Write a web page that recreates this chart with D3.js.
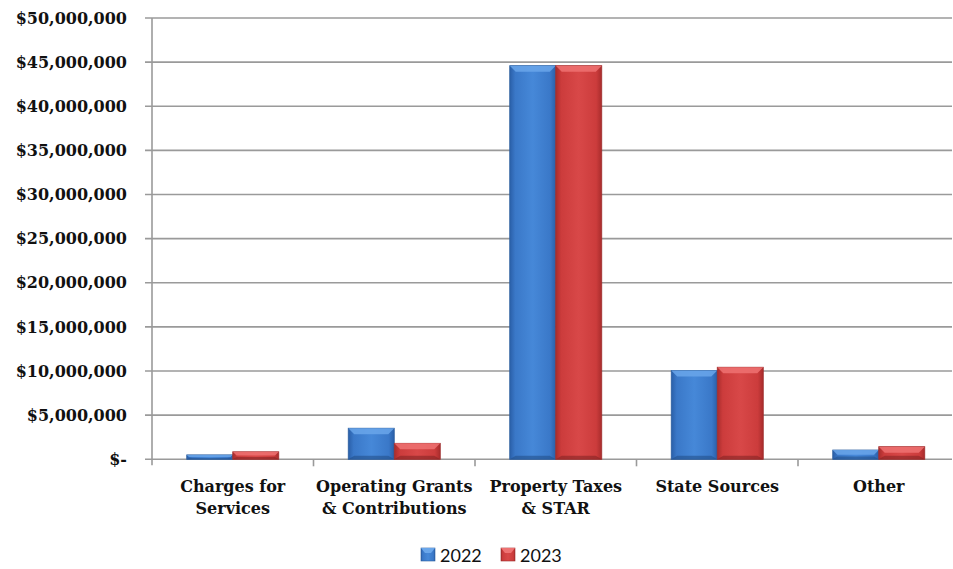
<!DOCTYPE html>
<html><head><meta charset="utf-8">
<script src="https://cdn.jsdelivr.net/npm/d3@7/dist/d3.min.js"></script>
<style>body{margin:0;background:#fff}svg{display:block}</style>
</head><body><svg id="c" width="953" height="569"></svg>
<script>
const categories = [["Charges for","Services"],["Operating Grants","& Contributions"],["Property Taxes","& STAR"],["State Sources"],["Other"]];
const seriesNames = ["2022","2023"];
const values2022 = [500000, 3520000, 44600000, 10050000, 1050000];
const values2023 = [850000, 1810000, 44600000, 10430000, 1430000];
const yTicks = [0,5000000,10000000,15000000,20000000,25000000,30000000,35000000,40000000,45000000,50000000];

(function(){
const svg = d3.select("#c");
const mLeft = 152, mRight = 959.5, gridRight = 952, mTop = 18, mBottom = 459.3;
const x = d3.scaleBand().domain(d3.range(categories.length)).range([mLeft, mRight]).paddingInner(0).paddingOuter(0);
const xs = d3.scaleBand().domain([0,1]).range([0, x.bandwidth()]).paddingInner(0).paddingOuter(0.755);
const y = d3.scaleLinear().domain([0,50000000]).range([mBottom, mTop]);

const defs = svg.append("defs");
function grad(id, dark, mid, light){
  const g = defs.append("linearGradient").attr("id", id).attr("x1","0").attr("x2","1").attr("y1","0").attr("y2","0");
  g.append("stop").attr("offset","0").attr("stop-color", dark);
  g.append("stop").attr("offset","0.12").attr("stop-color", mid);
  g.append("stop").attr("offset","0.5").attr("stop-color", light);
  g.append("stop").attr("offset","0.88").attr("stop-color", mid);
  g.append("stop").attr("offset","1").attr("stop-color", dark);
}
grad("gb", "#2a5fa8", "#3a78c8", "#4688d8");
grad("gr", "#a82c2c", "#cc3c3c", "#d84848");
const cols = [{fill:"url(#gb)", top:"#6aa6ea", stroke:"#2d5f9e", bot:"#23508a"},
              {fill:"url(#gr)", top:"#ee7272", stroke:"#9e2e2e", bot:"#862424"}];

svg.append("g").selectAll("line").data(yTicks).join("line")
  .attr("x1", 145).attr("x2", gridRight)
  .attr("y1", d => y(d)).attr("y2", d => y(d))
  .attr("stroke", "#9a9a9a").attr("stroke-width", 1.6);
svg.append("line").attr("x1", mLeft).attr("x2", mLeft).attr("y1", mTop).attr("y2", mBottom + 6)
  .attr("stroke", "#9a9a9a").attr("stroke-width", 1.6);
svg.append("g").selectAll("line").data(d3.range(1, categories.length)).join("line")
  .attr("x1", d => x(d)).attr("x2", d => x(d)).attr("y1", mBottom).attr("y2", mBottom + 7)
  .attr("stroke", "#9a9a9a").attr("stroke-width", 1.6);

svg.append("g").selectAll("text").data(yTicks).join("text")
  .attr("x", 127).attr("y", d => y(d)).attr("dy", "0.35em")
  .attr("text-anchor", "end")
  .style("font-family", "'DejaVu Serif', serif").style("font-weight", "bold").style("font-size", "16px")
  .attr("fill", "#111")
  .text(d => d === 0 ? "$-" : "$" + d3.format(",")(d));

const series = [values2022, values2023];
series.forEach((vals, si) => {
  const c = cols[si];
  const g = svg.append("g");
  vals.forEach((v, i) => {
    const bx = x(i) + xs(si), bw = xs.bandwidth(), by = y(v), bh = mBottom - y(v);
    g.append("rect").attr("x", bx).attr("y", by).attr("width", bw).attr("height", bh)
      .attr("fill", c.fill).attr("stroke", c.stroke).attr("stroke-width", 0.8);
    const bev = Math.min(6, bh / 2);
    g.append("path")
      .attr("d", `M${bx},${by}L${bx+bw},${by}L${bx+bw-bev},${by+bev}L${bx+bev},${by+bev}Z`)
      .attr("fill", c.top).attr("opacity", 0.85);
    g.append("path")
      .attr("d", `M${bx},${by+bh}L${bx+bw},${by+bh}L${bx+bw-bev},${by+bh-bev*0.6}L${bx+bev},${by+bh-bev*0.6}Z`)
      .attr("fill", c.bot).attr("opacity", 0.6);
  });
});

const cl = svg.append("g").selectAll("text").data(categories).join("text")
  .attr("x", (d,i) => x(i) + x.bandwidth()/2).attr("y", 492)
  .attr("text-anchor", "middle")
  .style("font-family", "'DejaVu Serif', serif").style("font-weight", "bold").style("font-size", "16px")
  .attr("fill", "#111");
cl.each(function(d, i){
  const t = d3.select(this);
  d.forEach((line, k) => t.append("tspan").attr("x", x(i) + x.bandwidth()/2).attr("dy", k === 0 ? 0 : 22).text(line));
});

const leg = svg.append("g");
const legItems = [{x:421, name:seriesNames[0], c:cols[0]}, {x:501, name:seriesNames[1], c:cols[1]}];
legItems.forEach(it => {
  leg.append("rect").attr("x", it.x).attr("y", 548).attr("width", 14).attr("height", 13)
    .attr("fill", it.c.fill).attr("stroke", it.c.stroke).attr("stroke-width", 0.6);
  leg.append("path").attr("d", `M${it.x},548L${it.x+14},548L${it.x+10},553L${it.x+4},553Z`).attr("fill", it.c.top);
  leg.append("text").attr("x", it.x + 19).attr("y", 562)
    .style("font-family", "Lato, 'Open Sans', sans-serif").style("font-size", "18px").attr("fill", "#111")
    .text(it.name);
});
})();
</script></body></html>
